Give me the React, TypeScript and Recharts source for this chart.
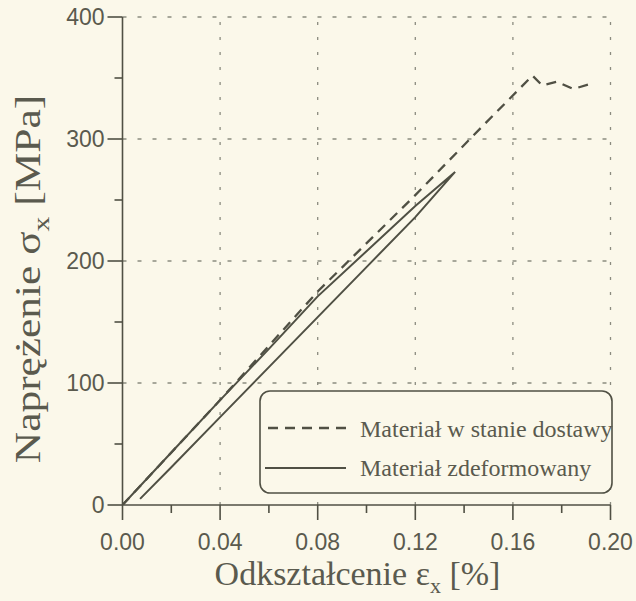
import React from 'react';
import { LineChart, Line, XAxis, YAxis, ReferenceLine, Label } from 'recharts';

// axis ticks (majors carry labels, the rest are minor marks)
const strainTicks = [0, 0.02, 0.04, 0.06, 0.08, 0.1, 0.12, 0.14, 0.16, 0.18, 0.2];
const stressTicks = [0, 50, 100, 150, 200, 250, 300, 350, 400];
const gridStrain = [0.04, 0.08, 0.12, 0.16, 0.2];
const gridStress = [100, 200, 300, 400];

// material as delivered
const deliveredStrain = [0, 0.04, 0.08, 0.12, 0.1424, 0.168, 0.172, 0.178, 0.1847, 0.1916, 0.1935];
const deliveredStress = [0, 86, 175, 254, 300, 352, 344, 347, 341, 345, 346];

// deformed material: loading branch then unloading branch
const deformedStrain = [0, 0.02, 0.04, 0.06, 0.08, 0.1, 0.12, 0.1363, 0.12, 0.1, 0.08, 0.06, 0.04, 0.02, 0.0072];
const deformedStress = [0, 43, 86, 128, 171, 208, 245, 273, 236, 195, 154, 113, 72, 31, 5];

const ink = '#505044';
const textInk = '#5a5a4e';
const paper = '#fbf8ea';
const gridInk = '#8c8c80';

const toRows = (xs: number[], ys: number[]) => xs.map((x, i) => ({ strain: x, stress: ys[i] }));
const delivered = toRows(deliveredStrain, deliveredStress);
const deformed = toRows(deformedStrain, deformedStress);

const StrainTick = (props: any) => {
    const { x, y, payload } = props;
    const major = Math.round(payload.value * 100) % 4 === 0;
    return (
        <g>
            <line x1={x} y1={y} x2={x} y2={y + (major ? 15 : 8)} stroke={ink} strokeWidth={1.6} />
            {major && (
                <text x={x} y={y + 45} textAnchor="middle" fontSize={23} fontFamily="'Liberation Sans', Arial, sans-serif" fill={textInk}>
                    {payload.value.toFixed(2)}
                </text>
            )}
        </g>
    );
};

const StressTick = (props: any) => {
    const { x, y, payload } = props;
    const major = payload.value % 100 === 0;
    return (
        <g>
            <line x1={x} y1={y} x2={x - (major ? 15 : 8)} y2={y} stroke={ink} strokeWidth={1.6} />
            {major && (
                <text x={x - 18} y={y + 8} textAnchor="end" fontSize={23} fontFamily="'Liberation Sans', Arial, sans-serif" fill={textInk}>
                    {payload.value}
                </text>
            )}
        </g>
    );
};

const serif = "'Liberation Serif', 'Times New Roman', serif";

export default function App() {
    return (
        <div style={{ position: 'absolute', left: 0, top: 0, width: 636, height: 601, background: paper }}>
            <LineChart width={636} height={601} margin={{ top: 17, right: 25.5, bottom: 36, left: 62.5 }}>
                {gridStrain.map(v => (
                    <ReferenceLine key={'gx' + v} x={v} stroke={gridInk} strokeWidth={1.3} strokeDasharray="3 12" />
                ))}
                {gridStress.map(v => (
                    <ReferenceLine key={'gy' + v} y={v} stroke={gridInk} strokeWidth={1.3} strokeDasharray="4 11" />
                ))}
                <XAxis
                    type="number"
                    dataKey="strain"
                    domain={[0, 0.2]}
                    ticks={strainTicks}
                    interval={0}
                    height={60}
                    tickSize={0}
                    tickMargin={0}
                    axisLine={{ stroke: ink, strokeWidth: 1.6 }}
                    tickLine={false}
                    tick={StrainTick}
                    allowDataOverflow
                >
                    <Label
                        content={({ viewBox }: any) => (
                            <text x={viewBox.x + viewBox.width / 2 - 9} y={585} textAnchor="middle" fontSize={34} fontFamily={serif} fill={textInk}>
                                Odkształcenie ε
                                <tspan fontSize={22} dy={8}>x</tspan>
                                <tspan dy={-8}>{'  [%]'}</tspan>
                            </text>
                        )}
                    />
                </XAxis>
                <YAxis
                    type="number"
                    domain={[0, 400]}
                    ticks={stressTicks}
                    interval={0}
                    width={60}
                    tickSize={0}
                    tickMargin={0}
                    axisLine={{ stroke: ink, strokeWidth: 1.6 }}
                    tickLine={false}
                    tick={StressTick}
                    allowDataOverflow
                >
                    <Label
                        content={({ viewBox }: any) => {
                            const cy = viewBox.y + viewBox.height / 2 + 18;
                            return (
                                <text
                                    x={0}
                                    y={0}
                                    transform={`translate(40 ${cy}) rotate(-90) scale(1.24 1)`}
                                    textAnchor="middle"
                                    fontSize={35}
                                    fontFamily={serif}
                                    fill={textInk}
                                >
                                    Naprężenie σ
                                    <tspan fontSize={24} dy={9}>x</tspan>
                                    <tspan dy={-9}>{'  [MPa]'}</tspan>
                                </text>
                            );
                        }}
                    />
                </YAxis>
                <Line
                    data={delivered}
                    dataKey="stress"
                    type="linear"
                    stroke={ink}
                    strokeWidth={2.3}
                    strokeDasharray="10 7"
                    dot={false}
                    isAnimationActive={false}
                />
                <Line
                    data={deformed}
                    dataKey="stress"
                    type="linear"
                    stroke={ink}
                    strokeWidth={2}
                    dot={false}
                    isAnimationActive={false}
                />
            </LineChart>
            <svg width={356} height={106} style={{ position: 'absolute', left: 259, top: 390 }}>
                <rect x={1} y={1} width={352} height={102} rx={10} fill={paper} stroke={ink} strokeWidth={1.6} />
                <line x1={9} y1={38} x2={89} y2={38} stroke={ink} strokeWidth={2.3} strokeDasharray="10 7" />
                <text x={101} y={47} fontSize={24} fontFamily={serif} fill={textInk}>Materiał w stanie dostawy</text>
                <line x1={6} y1={78} x2={87} y2={78} stroke={ink} strokeWidth={1.8} />
                <text x={101} y={86} fontSize={24} fontFamily={serif} fill={textInk}>Materiał zdeformowany</text>
            </svg>
        </div>
    );
}
